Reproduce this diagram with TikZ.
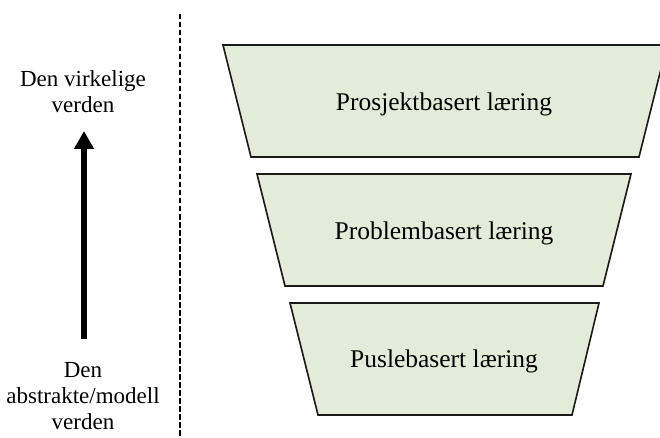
\documentclass[tikz,border=0pt]{standalone}
\usepackage{fontspec}
\setmainfont{Liberation Serif}
\usetikzlibrary{arrows.meta}
\definecolor{boxfill}{HTML}{E3ECD9}
\definecolor{boxline}{HTML}{1A1A1A}
\tikzset{
  level/.style={fill=boxfill, draw=boxline, line width=1.6pt, line join=miter},
  leveltext/.style={font=\fontsize{25.5}{28}\selectfont, text=black},
  sidetext/.style={font=\fontsize{23}{26}\selectfont, align=center, text=black},
  divider/.style={draw=black, line width=2.8pt, dash pattern=on 5.5pt off 2.5pt},
  uparrow/.style={draw=black, line width=6pt, -{Triangle[length=18pt,width=19pt]}}
}
\begin{document}
\begin{tikzpicture}[x=1pt, y=-1pt]
  \useasboundingbox (0,0) rectangle (660,438);
  \clip (0,0) rectangle (660,438);

  % dashed separator
  \coordinate (divtop) at (180,14);
  \coordinate (divbot) at (180,440);
  \draw[divider] (divtop) -- (divbot);

  % three stacked levels
  \path[level] (223,45) -- (667,45) -- (639,157) -- (251,157) -- cycle;
  \node[leveltext] (prosjekt) at (444,104) {Prosjektbasert læring};

  \path[level] (257,174) -- (631,174) -- (603,286) -- (285,286) -- cycle;
  \node[leveltext] (problem) at (444,233) {Problembasert læring};

  \path[level] (290,303) -- (599,303) -- (572,415) -- (318,415) -- cycle;
  \node[leveltext] (pusle) at (444,361) {Puslebasert læring};

  % side labels and arrow
  \node[sidetext] (real) at (83,92) {Den virkelige\\verden};
  \node[sidetext] (abstract) at (83,396) {Den\\abstrakte/modell\\verden};
  \coordinate (arrowstart) at (84,339);
  \coordinate (arrowtip) at (84,131);
  \draw[uparrow] (arrowstart) -- (arrowtip);
\end{tikzpicture}
\end{document}
